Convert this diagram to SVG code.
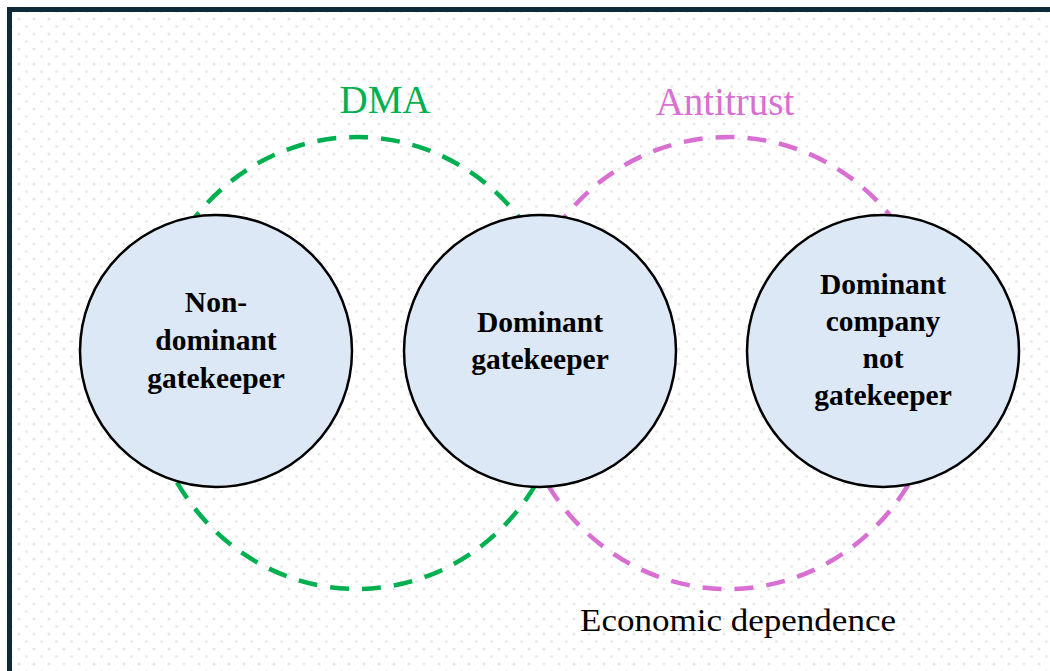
<svg xmlns="http://www.w3.org/2000/svg" width="1050" height="671" viewBox="0 0 1050 671">
  <style>
    .scope { fill: none; stroke-width: 4.5; stroke-dasharray: 19 13; }
    .dma { stroke: #00b050; }
    .anti { stroke: #d86fd2; }
    .node circle { fill: #dce8f5; stroke: #000; stroke-width: 2.5; }
    .node text { font-family: "Liberation Serif", "Times New Roman", serif; font-weight: bold; font-size: 29.5px; fill: #000; text-anchor: middle; }
    .label { font-family: "Liberation Serif", "Times New Roman", serif; text-anchor: middle; }
  </style>
  <defs>
    <pattern id="dots" width="15" height="15" patternUnits="userSpaceOnUse">
      <circle cx="4" cy="4" r="1.6" fill="#e6e6e6"/>
      <circle cx="11.5" cy="11.5" r="1.6" fill="#ececec"/>
    </pattern>
  </defs>

  <!-- page background with faint dot texture -->
  <rect x="0" y="0" width="1050" height="671" fill="#ffffff"/>
  <rect x="12" y="12" width="1038" height="659" fill="url(#dots)"/>
  <rect x="9.5" y="9.5" width="1100" height="720" fill="none" stroke="#0e2a38" stroke-width="5"/>

  <!-- regulatory scopes (dashed ellipses, drawn behind the nodes) -->
  <g id="connectors">
    <ellipse class="scope dma" cx="357" cy="363" rx="212" ry="226"/>
    <ellipse class="scope anti" cx="728" cy="363" rx="214" ry="226"/>
  </g>

  <g id="node-non-dominant" class="node">
    <circle cx="216" cy="351" r="136"/>
    <text x="216" y="312">Non-</text>
    <text x="216" y="350">dominant</text>
    <text x="216" y="388">gatekeeper</text>
  </g>

  <g id="node-dominant-gatekeeper" class="node">
    <circle cx="540" cy="351" r="136"/>
    <text x="540" y="332">Dominant</text>
    <text x="540" y="369">gatekeeper</text>
  </g>

  <g id="node-dominant-company" class="node">
    <circle cx="883" cy="351" r="136"/>
    <text x="883" y="294">Dominant</text>
    <text x="883" y="331">company</text>
    <text x="883" y="368">not</text>
    <text x="883" y="405">gatekeeper</text>
  </g>

  <g id="labels">
    <text class="label" x="385" y="113" font-size="39" fill="#00b050">DMA</text>
    <text class="label" x="725" y="115" font-size="39" fill="#d86fd2">Antitrust</text>
    <text class="label" x="738" y="631" font-size="32" fill="#000" textLength="316" lengthAdjust="spacingAndGlyphs">Economic dependence</text>
  </g>
</svg>
